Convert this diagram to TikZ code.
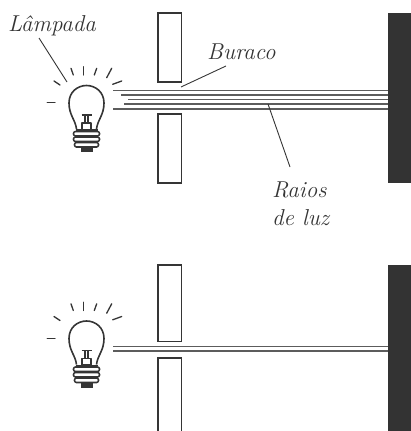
\documentclass[tikz,border=0pt]{standalone}
\definecolor{ink}{HTML}{353535}
\definecolor{raygray}{HTML}{5C5C5C}
\definecolor{wallfill}{HTML}{333333}
\tikzset{
  wallbox/.style={draw=ink, line width=1.5, fill=white},
  darkwall/.style={fill=wallfill, draw=none},
  ray/.style={draw=raygray, line width=1.1},
  bulbline/.style={draw=ink, line width=1.6, line join=round},
  glow/.style={draw=ink, line width=1.3, line cap=round},
  leader/.style={draw=ink, line width=0.9},
  lbl/.style={font=\itshape\fontsize{23}{28}\selectfont, text=ink, inner sep=0pt},
  lamp/.pic={
    % glass
    \draw[bulbline] (-10,43.5) .. controls (-11,34.5) and (-17.5,29.5) .. (-17.5,17.5)
      .. controls (-17.5,6.5) and (-9,0) .. (0,0)
      .. controls (9,0) and (17.5,6.5) .. (17.5,17.5)
      .. controls (17.5,29.5) and (11,34.5) .. (10,43.5);
    % filament
    \draw[bulbline, line width=1.2] (-5,29.5) -- (5,29.5);
    \draw[bulbline, line width=1.1] (-1.5,29.5) -- (-1.5,37.5) (1.5,29.5) -- (1.5,37.5);
    \draw[bulbline, line width=1.3] (-4.5,37.5) rectangle (4.5,44);
    % screw base
    \draw[bulbline] (-11,44.5) -- (11,44.5);
    \draw[bulbline, rounded corners=2] (-13,46) rectangle (13,50.5);
    \draw[bulbline, rounded corners=2] (-13,51.5) rectangle (13,56);
    \draw[bulbline, rounded corners=2] (-12,57) rectangle (12,61.5);
    \fill[ink] (-6,61.5) rectangle (6,66.5);
    % glow marks
    \draw[glow] (-39.2,17.2) -- (-31.5,17.2);
    \draw[glow] (-32.5,-4.5) -- (-26.5,-0.5);
    \draw[glow] (-15.5,-17.2) -- (-13.2,-10.5);
    \draw[glow] (-3.2,-18.8) -- (-3.2,-10.5);
    \draw[glow] (10.2,-17.2) -- (7.8,-10.5);
    \draw[glow] (25.2,-17.2) -- (20.2,-7.8);
    \draw[glow] (26.2,-1.2) -- (35.2,-4.5);
  }
}
\begin{document}
\begin{tikzpicture}[x=1pt,y=-1pt]
  \useasboundingbox (0,0) rectangle (411,431);
  \clip (0,0) rectangle (411,431);

  % ---------- upper scene: wide beam through the hole ----------
  \pic at (86.5,85.5) {lamp};
  \foreach \yy/\xs in {90.5/113, 95/121, 99.5/128, 104/124, 109/113}
    \draw[ray] (\xs,\yy) -- (388,\yy);
  \draw[wallbox] (158,13) rectangle (181.5,82);
  \draw[wallbox] (158,114) rectangle (181.5,183);
  \fill[darkwall] (388,13) rectangle (412,183);

  \node[lbl, anchor=base west] (lampada) at (8,31) {L\^ampada};
  \node[lbl, anchor=base west] (buraco) at (207,59) {Buraco};
  \node[lbl, anchor=base west] (raios) at (272,197) {Raios};
  \node[lbl, anchor=base west] (deluz) at (272,225) {de luz};

  \coordinate (lampadaA) at (39,38);
  \coordinate (lampadaB) at (67,82);
  \coordinate (buracoA) at (226,66);
  \coordinate (buracoB) at (181,87);
  \coordinate (raiosA) at (290,167);
  \coordinate (raiosB) at (268,104);
  \draw[leader] (lampadaA) -- (lampadaB);
  \draw[leader] (buracoA) -- (buracoB);
  \draw[leader] (raiosA) -- (raiosB);

  % ---------- lower scene: thin beam through the hole ----------
  \pic at (86.5,321) {lamp};
  \foreach \yy in {346.7, 351}
    \draw[ray] (113,\yy) -- (388,\yy);
  \draw[wallbox] (158,265) rectangle (181.5,341.7);
  \draw[wallbox] (158,358) rectangle (181.5,440);
  \fill[darkwall] (388,265) rectangle (412,440);
\end{tikzpicture}
\end{document}
